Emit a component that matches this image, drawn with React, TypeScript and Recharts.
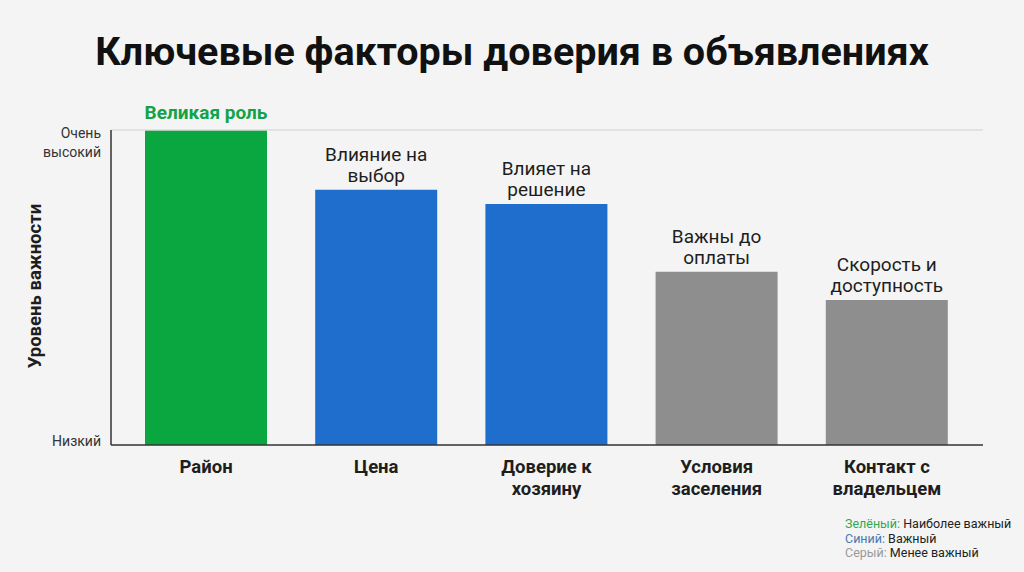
import { Bar, BarChart, Cell, LabelList, ReferenceLine, XAxis, YAxis } from "recharts";

const categories = ["Район", "Цена", "Доверие к\nхозяину", "Условия\nзаселения", "Контакт с\nвладельцем"];
const importance = [100, 81, 76.5, 55, 46];
const barNotes = ["Великая роль", "Влияние на\nвыбор", "Влияет на\nрешение", "Важны до\nоплаты", "Скорость и\nдоступность"];
const barColors = ["#0aa640", "#1f6dcc", "#1f6dcc", "#8e8e8e", "#8e8e8e"];
const yTicks = [0, 100];
const yTickLabels = ["Низкий", "Очень\nвысокий"];

const legendItems = [
  { key: "Зелёный:", text: " Наиболее важный", color: "#2fa852" },
  { key: "Синий:", text: " Важный", color: "#4a78b0" },
  { key: "Серый:", text: " Менее важный", color: "#9a9a9a" },
];

const data = categories.map((name, i) => ({ name, value: importance[i], note: barNotes[i] }));

const font = "Roboto, 'Noto Sans', sans-serif";

function XTick({ x, y, payload }: any) {
  const lines = String(payload.value).split("\n");
  return (
    <text x={x} y={y + 20} textAnchor="middle" fill="#1e1e1e" fontSize={18.5} fontWeight={700} fontFamily={font}>
      {lines.map((l, i) => (
        <tspan key={i} x={x} dy={i === 0 ? 0 : 22}>{l}</tspan>
      ))}
    </text>
  );
}

function YTick({ x, y, payload }: any) {
  const idx = yTicks.indexOf(payload.value);
  const lines = (yTickLabels[idx] || "").split("\n");
  const start = lines.length > 1 ? y + 8 : y + 1;
  return (
    <text x={x - 2} y={start} textAnchor="end" fill="#333" fontSize={14} fontFamily={font}>
      {lines.map((l, i) => (
        <tspan key={i} x={x - 2} dy={i === 0 ? 0 : 19}>{l}</tspan>
      ))}
    </text>
  );
}

function NoteLabel(props: any) {
  const { x, y, width, index, value } = props;
  const lines = String(value).split("\n");
  const cx = x + width / 2;
  const highlight = index === 0;
  const base = y - (highlight ? 11 : 8);
  return (
    <text
      x={cx}
      y={base - (lines.length - 1) * 21}
      textAnchor="middle"
      fill={highlight ? "#12a347" : "#1e1e1e"}
      fontSize={19}
      fontWeight={highlight ? 700 : 400}
      fontFamily={font}
    >
      {lines.map((l, i) => (
        <tspan key={i} x={cx} dy={i === 0 ? 0 : 21}>{l}</tspan>
      ))}
    </text>
  );
}

export default function App() {
  return (
    <div style={{ position: "absolute", left: 0, top: 0, width: 1024, height: 572, background: "#f4f4f4", fontFamily: font }}>
      <div style={{ position: "absolute", top: 28, width: 1024, textAlign: "center", fontSize: 39.5, fontWeight: 700, color: "#111" }}>
        Ключевые факторы доверия в объявлениях
      </div>
      <div
        style={{
          position: "absolute",
          left: 35,
          top: 286,
          transform: "translate(-50%, -50%) rotate(-90deg)",
          whiteSpace: "nowrap",
          fontSize: 18.5,
          fontWeight: 700,
          color: "#1e1e1e",
        }}
      >
        Уровень важности
      </div>
      <div style={{ position: "absolute", left: 0, top: 0 }}>
        <BarChart width={1024} height={572} data={data} margin={{ top: 130, right: 41, bottom: 67, left: 0 }}>
          <ReferenceLine y={100} stroke="#dcdcdc" strokeWidth={1.5} />
          <XAxis
            dataKey="name"
            height={60}
            interval={0}
            tick={<XTick />}
            tickLine={false}
            axisLine={{ stroke: "#333", strokeWidth: 1.5 }}
            padding={{ left: 10, right: 11 }}
          />
          <YAxis
            width={111}
            domain={[0, 100]}
            ticks={yTicks}
            tick={<YTick />}
            tickLine={false}
            axisLine={{ stroke: "#333", strokeWidth: 1.5 }}
          />
          <Bar dataKey="value" barSize={122} isAnimationActive={false}>
            {data.map((_, i) => (
              <Cell key={i} fill={barColors[i]} />
            ))}
            <LabelList dataKey="note" content={<NoteLabel />} />
          </Bar>
        </BarChart>
      </div>
      <div style={{ position: "absolute", left: 845, top: 517, fontSize: 12.5, lineHeight: "14.5px", color: "#222" }}>
        {legendItems.map((it) => (
          <div key={it.key}>
            <span style={{ color: it.color }}>{it.key}</span>
            {it.text}
          </div>
        ))}
      </div>
    </div>
  );
}
